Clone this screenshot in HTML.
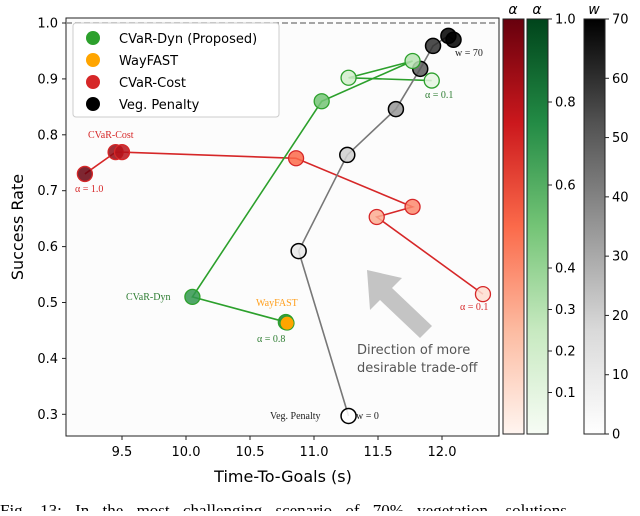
<!DOCTYPE html>
<html><head><meta charset="utf-8"><style>
body{margin:0;background:#fff;width:640px;height:511px;overflow:hidden}
text{font-family:"DejaVu Sans","Liberation Sans",sans-serif}
.serif{font-family:"Liberation Serif","DejaVu Serif",serif}
</style></head><body>
<svg id="chart" width="640" height="511" viewBox="0 0 640 511" xmlns="http://www.w3.org/2000/svg">
<defs>
<linearGradient id="gR" x1="0" y1="1" x2="0" y2="0"><stop offset="0" stop-color="#fff5f0"/><stop offset=".25" stop-color="#fcbba1"/><stop offset=".5" stop-color="#fb6a4a"/><stop offset=".75" stop-color="#cb181d"/><stop offset="1" stop-color="#67000d"/></linearGradient>
<linearGradient id="gG" x1="0" y1="1" x2="0" y2="0"><stop offset="0" stop-color="#f7fcf5"/><stop offset=".25" stop-color="#c7e9c0"/><stop offset=".5" stop-color="#74c476"/><stop offset=".75" stop-color="#238b45"/><stop offset="1" stop-color="#00441b"/></linearGradient>
<linearGradient id="gK" x1="0" y1="1" x2="0" y2="0"><stop offset="0" stop-color="#ffffff"/><stop offset=".25" stop-color="#d9d9d9"/><stop offset=".5" stop-color="#969696"/><stop offset=".75" stop-color="#525252"/><stop offset="1" stop-color="#000000"/></linearGradient>
</defs>
<rect x="66" y="18" width="433" height="418" fill="#fcfcfc" stroke="#222" stroke-width="1"/>
<line x1="66" y1="23" x2="499" y2="23" stroke="#888" stroke-width="1.5" stroke-dasharray="6,3"/>
<g id="axes"></g>
<g id="lines"></g>
<g id="marks"></g>
<g>
<polygon points="367,270 402,278 392,288 432,326 420,338 380,300 370,310" fill="#c4c4c4"/>
</g>
<text x="357" y="354" font-size="13" fill="#555">Direction of more</text>
<text x="357" y="372" font-size="13" fill="#555">desirable trade-off</text>
<text class="serif" x="88" y="138" font-size="10" fill="#d62728">CVaR-Cost</text>
<text class="serif" x="75" y="192" font-size="10" fill="#d62728">α = 1.0</text>
<text class="serif" x="460" y="310" font-size="10" fill="#d62728">α = 0.1</text>
<text class="serif" x="425" y="98" font-size="10" fill="#2e7d32">α = 0.1</text>
<text class="serif" x="455" y="56" font-size="10" fill="#222">w = 70</text>
<text class="serif" x="126" y="300" font-size="10" fill="#2e7d32">CVaR-Dyn</text>
<text class="serif" x="256" y="306" font-size="10" fill="#ff9f1c">WayFAST</text>
<text class="serif" x="257" y="342" font-size="10" fill="#2e7d32">α = 0.8</text>
<text class="serif" x="270" y="419" font-size="10" fill="#222">Veg. Penalty</text>
<text class="serif" x="356" y="419" font-size="10" fill="#222">w = 0</text>
<g>
<rect x="73" y="23" width="206" height="94" rx="3" fill="#fff" fill-opacity="0.85" stroke="#ccc"/>
<circle cx="93" cy="38" r="7" fill="#2ca02c"/><text x="119" y="43" font-size="13">CVaR-Dyn (Proposed)</text>
<circle cx="93" cy="60" r="7" fill="#ffa500"/><text x="119" y="65" font-size="13">WayFAST</text>
<circle cx="93" cy="82" r="7" fill="#d62728"/><text x="119" y="87" font-size="13">CVaR-Cost</text>
<circle cx="93" cy="104" r="7" fill="#000"/><text x="119" y="109" font-size="13">Veg. Penalty</text>
</g>
<text transform="translate(23,227) rotate(-90)" text-anchor="middle" font-size="16">Success Rate</text>
<text x="283" y="482" text-anchor="middle" font-size="16">Time-To-Goals (s)</text>
<rect x="503" y="19" width="21" height="415" fill="url(#gR)" stroke="#222"/>
<rect x="527" y="19" width="21" height="415" fill="url(#gG)" stroke="#222"/>
<rect x="584" y="19" width="21" height="415" fill="url(#gK)" stroke="#222"/>
<text x="513" y="14" font-size="14" font-style="italic" text-anchor="middle">α</text>
<text x="537" y="14" font-size="14" font-style="italic" text-anchor="middle">α</text>
<text x="594" y="14" font-size="14" font-style="italic" text-anchor="middle">w</text>
<g id="cbticks"></g>
<text class="serif" x="0" y="516" font-size="17" word-spacing="9">Fig. 13: In the most challenging scenario of 70% vegetation, solutions</text>
</svg>
<script>
const xTicks=[9.5,10.0,10.5,11.0,11.5,12.0];
const yTicks=[0.3,0.4,0.5,0.6,0.7,0.8,0.9,1.0];
const alphaTicks=[0.1,0.2,0.3,0.4,0.6,0.8,1.0];
const wTicks=[0,10,20,30,40,50,60,70];
const redX=[9.21,9.45,9.5,10.86,11.77,11.49,12.32];
const redY=[0.730,0.769,0.769,0.758,0.671,0.653,0.515];
const redA=[1.0,0.9,0.8,0.5,0.4,0.3,0.1];
const greenX=[10.78,10.05,11.06,11.77,11.27,11.92];
const greenY=[0.465,0.51,0.86,0.932,0.902,0.897];
const greenA=[0.8,0.7,0.5,0.3,0.2,0.1];
const grayX=[11.27,10.88,11.26,11.64,11.83,11.93,12.05,12.09];
const grayY=[0.297,0.592,0.764,0.846,0.918,0.959,0.977,0.970];
const grayW=[0,10,20,35,50,60,70,70];
const wayX=[10.79], wayY=[0.463];
const NS="http://www.w3.org/2000/svg";
const X=v=>122+(v-9.5)*128;
const Y=v=>23+(1.0-v)*559;
const CB=f=>434-f*415;
function mk(t,a,p){const e=document.createElementNS(NS,t);for(const k in a)e.setAttribute(k,a[k]);p.appendChild(e);return e;}
function cmap(stops,f){f=Math.max(0,Math.min(1,f));const n=stops.length-1,i=Math.min(n-1,Math.floor(f*n)),t=f*n-i;const a=stops[i],b=stops[i+1];return 'rgb('+[0,1,2].map(k=>Math.round(a[k]+(b[k]-a[k])*t)).join(',')+')';}
const REDS=[[255,245,240],[252,187,161],[251,106,74],[203,24,29],[103,0,13]];
const GREENS=[[247,252,245],[199,233,192],[116,196,118],[35,139,69],[0,68,27]];
const GREYS=[[255,255,255],[217,217,217],[150,150,150],[82,82,82],[0,0,0]];
const ax=document.getElementById('axes'),ln=document.getElementById('lines'),mr=document.getElementById('marks'),cb=document.getElementById('cbticks');
xTicks.forEach(v=>{mk('line',{x1:X(v),x2:X(v),y1:436,y2:440,stroke:'#222'},ax);const t=mk('text',{x:X(v),y:456,'text-anchor':'middle','font-size':13},ax);t.textContent=v.toFixed(1);

});
yTicks.forEach(v=>{mk('line',{x1:62,x2:66,y1:Y(v),y2:Y(v),stroke:'#222'},ax);const t=mk('text',{x:58,y:Y(v)+4.5,'text-anchor':'end','font-size':13},ax);t.textContent=v.toFixed(1);

});
alphaTicks.forEach(v=>{mk('line',{x1:548,x2:552,y1:CB(v),y2:CB(v),stroke:'#222'},cb);const t=mk('text',{x:555,y:CB(v)+4.5,'font-size':13},cb);t.textContent=v.toFixed(1);

});
wTicks.forEach(v=>{mk('line',{x1:605,x2:609,y1:CB(v/70),y2:CB(v/70),stroke:'#222'},cb);const t=mk('text',{x:612,y:CB(v/70)+4.5,'font-size':13},cb);t.textContent=v;

});
function series(xs,ys,col,name){const p=mk('polyline',{points:xs.map((x,i)=>X(x)+','+Y(ys[i])).join(' '),fill:'none',stroke:col,'stroke-width':1.6},ln);

}
series(redX,redY,'#d62728','cvar-cost');
series(greenX,greenY,'#2ca02c','cvar-dyn');
series(grayX,grayY,'#777','veg-penalty');
grayX.forEach((x,i)=>{const c=mk('circle',{cx:X(x),cy:Y(grayY[i]),r:7.5,fill:cmap(GREYS,grayW[i]/70),'fill-opacity':0.85,stroke:'#000','stroke-width':1.5},mr);

});
redX.forEach((x,i)=>{const c=mk('circle',{cx:X(x),cy:Y(redY[i]),r:7.5,fill:cmap(REDS,redA[i]),'fill-opacity':0.85,stroke:'#d62728','stroke-width':1.3},mr);

});
greenX.forEach((x,i)=>{const c=mk('circle',{cx:X(x),cy:Y(greenY[i]),r:7.5,fill:cmap(GREENS,greenA[i]),'fill-opacity':0.85,stroke:'#2ca02c','stroke-width':1.3},mr);

});
wayX.forEach((x,i)=>{const c=mk('circle',{cx:X(x),cy:Y(wayY[i]),r:7,fill:'#ffa500',stroke:'#2ca02c','stroke-width':1},mr);

});
</script>
</body></html>
